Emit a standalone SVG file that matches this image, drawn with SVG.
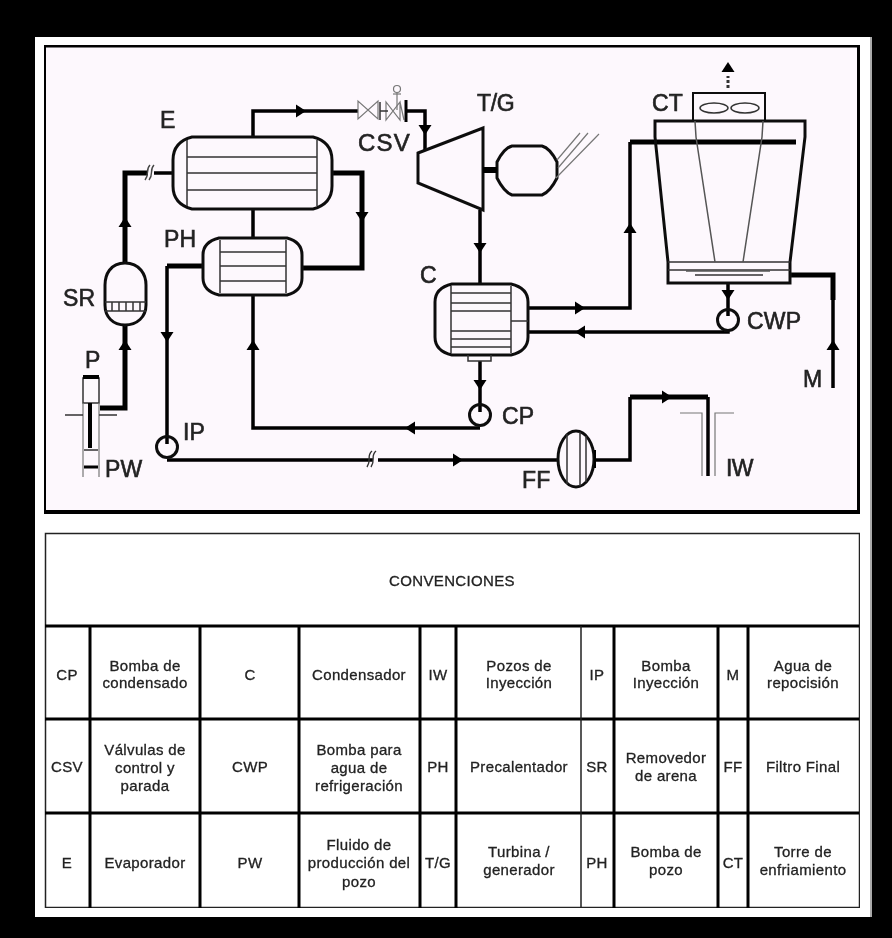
<svg xmlns="http://www.w3.org/2000/svg" xmlns:xlink="http://www.w3.org/1999/xlink" width="892" height="938" viewBox="0 0 892 938">
<defs>
<style>
.l{font-family:"Liberation Sans",Arial,sans-serif;font-size:23px;fill:#222;stroke:#222;stroke-width:.6;letter-spacing:.2px}
.t{font-family:"Liberation Sans",Arial,sans-serif;font-size:15px;fill:#222;stroke:#222;stroke-width:.3;letter-spacing:.35px;text-anchor:middle}
.o{fill:none;stroke:#111;stroke-width:3}
.n{fill:none;stroke:#333;stroke-width:1.5}
.g{fill:none;stroke:#777;stroke-width:1.2}
.p{fill:none;stroke:#000;stroke-width:3.5}
.pp{fill:none;stroke:#000;stroke-width:5}
.ah{fill:#000}
</style>
<polygon id="ah" class="ah" points="-5,-6.5 5,0 -5,6.5"/>
<filter id="soft" x="0" y="0" width="100%" height="100%"><feGaussianBlur stdDeviation="0.55"/></filter>
</defs>
<rect width="892" height="938" fill="#000"/>
<rect x="35" y="37" width="836" height="880" fill="#fff"/>
<rect x="870" y="37" width="2" height="880" fill="#aaa"/>
<g filter="url(#soft)">
<rect id="frame" x="44" y="45.500" width="815" height="466.500" fill="#fdf8fd" stroke="#000" stroke-width="4"/>
<g id="connectors">
<path class="p" d="M253 137V111H358"/>
<path class="p" d="M407 111H425V150"/>
<path class="p" d="M480 210V284"/>
<path class="p" d="M253 209V238"/>
<path class="pp" d="M332 173H362V268H302"/>
<path class="pp" d="M203 266H167"/>
<path class="p" d="M167 266V444"/>
<path class="p" d="M480 361V412"/>
<path class="p" d="M480 428H253V295"/>
<path class="pp" d="M125 263V173H148"/>
<path class="p" d="M154 173H173"/>
<path class="pp" d="M125 325V408H100"/>
<path class="p" d="M167 460H373"/>
<path class="p" d="M378 460H558"/>
<path class="p" d="M594 460H630V397"/>
<path class="pp" d="M630 397H708"/>
<path class="p" d="M708 397V476"/>
<path class="p" d="M528 308H630V142"/>
<path class="pp" d="M630 142H796"/>
<path class="p" d="M528 332H728V330"/>
<path class="p" d="M728 283V316"/>
<path class="pp" d="M790 275H833V300"/>
<path class="p" d="M833 300V388"/>
<path d="M728 88V76" fill="none" stroke="#333" stroke-width="3" stroke-dasharray="3 2"/>
<path d="M149 180C154 174 149 170 154 165M145 180C150 174 145 170 150 165" fill="none" stroke="#444" stroke-width="1.4"/>
<path d="M371 467C376 460 370 456 376 451M367 467C372 460 366 456 372 451" fill="none" stroke="#333" stroke-width="1.4"/>
<use xlink:href="#ah" transform="translate(301 111)"/>
<use xlink:href="#ah" transform="translate(425 130) rotate(90)"/>
<use xlink:href="#ah" transform="translate(480 248) rotate(90)"/>
<use xlink:href="#ah" transform="translate(362 217) rotate(90)"/>
<use xlink:href="#ah" transform="translate(167 337) rotate(90)"/>
<use xlink:href="#ah" transform="translate(125 222) rotate(-90)"/>
<use xlink:href="#ah" transform="translate(125 345) rotate(-90)"/>
<use xlink:href="#ah" transform="translate(253 345) rotate(-90)"/>
<use xlink:href="#ah" transform="translate(480 385) rotate(90)"/>
<use xlink:href="#ah" transform="translate(410 428) rotate(180)"/>
<use xlink:href="#ah" transform="translate(458 460)"/>
<use xlink:href="#ah" transform="translate(667 397)"/>
<use xlink:href="#ah" transform="translate(580 308)"/>
<use xlink:href="#ah" transform="translate(580 332) rotate(180)"/>
<use xlink:href="#ah" transform="translate(630 228) rotate(-90)"/>
<use xlink:href="#ah" transform="translate(728 295) rotate(90)"/>
<use xlink:href="#ah" transform="translate(833 345) rotate(-90)"/>
<use xlink:href="#ah" transform="translate(728 67) rotate(-90)"/>
</g>
<g id="evaporator">
<path class="o" d="M192 137H313Q332 142 332 160V186Q332 204 313 209H192Q173 204 173 186V160Q173 142 192 137Z"/>
<path class="n" d="M187 140V206M317 140V206M187 157H317M187 173H317M187 190H317"/>
<text class="l" x="160" y="128">E</text>
</g>
<g id="preheater">
<path class="o" d="M219 238H287Q302 242 302 255V278Q302 291 287 295H219Q203 291 203 278V255Q203 242 219 238Z"/>
<path class="n" d="M220 240V293M286 240V293M220 252H286M220 266H286M220 281H286"/>
<text class="l" x="164" y="247">PH</text>
</g>
<g id="csv">
<path class="g" d="M358 101V119L378 101V119ZM386 102V120L400 102V120ZM400 102L404 120"/>
<path class="n" d="M380 102V120M380 111H388"/>
<path d="M406 100V122" stroke="#000" stroke-width="3" fill="none"/>
<path class="g" d="M397 110V93"/>
<circle cx="397" cy="89" r="3.500" fill="none" stroke="#777" stroke-width="1.200"/>
<path class="g" d="M393 94H401"/>
<text class="l" x="358" y="151" style="letter-spacing:1.2px;font-size:24px">CSV</text>
</g>
<g id="turbine">
<path class="o" d="M418 153L483 128V210L418 183Z"/>
<text class="l" x="477" y="111" style="letter-spacing:-.3px">T/G</text>
</g>
<g id="generator">
<path class="o" d="M512 146H542Q550 148 557 162V178Q550 192 542 195H512Q504 192 497 178V162Q504 148 512 146Z"/>
<path d="M483 170H497" stroke="#000" stroke-width="6" fill="none"/>
<path class="g" d="M557 160L580 133M558 168L588 133M556 178L599 134"/>
</g>
<g id="condenser">
<path class="o" d="M452 284H511Q528 288 528 302V337Q528 351 511 355H452Q435 351 435 337V302Q435 288 452 284Z"/>
<path class="n" d="M451 286V353M511 286V353M451 293H511M451 303H511M451 311H511M451 331H511M451 339H511M451 347H511M511 321H528"/>
<path class="n" d="M468 355V361H491V355"/>
<text class="l" x="420" y="283">C</text>
</g>
<g id="cp">
<circle class="o" cx="480" cy="415" r="10.500"/>
<text class="l" x="502" y="424">CP</text>
</g>
<g id="ip">
<circle class="o" cx="167" cy="447" r="10.500"/>
<text class="l" x="183" y="440">IP</text>
</g>
<g id="cwp">
<circle class="o" cx="728" cy="320" r="10.500"/>
<text class="l" x="747" y="329">CWP</text>
</g>
<g id="tower">
<rect class="o" x="693" y="93" width="72" height="28" style="stroke-width:2"/>
<ellipse class="n" cx="714" cy="108" rx="14" ry="5"/>
<ellipse class="n" cx="745" cy="108" rx="14" ry="5"/>
<path class="o" d="M655 137V121H805V137L790 262V283H668V262Z"/>
<path class="n" d="M668 262H790M668 270H790"/>
<path class="g" d="M695 121L696 137L715 262M763 121L762 137L743 262M686 271H770" style="stroke:#555;stroke-width:1.500"/>
<path d="M695 275H763" stroke="#333" stroke-width="1.500"/>
<text class="l" x="652" y="111">CT</text>
</g>
<g id="sr">
<path class="o" d="M125 263C140 263 146 275 146 285V305C146 317 137 325 125 325C113 325 105 317 105 305V285C105 275 110 263 125 263Z"/>
<path class="n" d="M105 302H146M105 311H146M112 302V311M119 302V311M126 302V311M133 302V311M140 302V311"/>
<text class="l" x="63" y="306">SR</text>
</g>
<g id="pw">
<rect x="83" y="378" width="16" height="25" class="n"/>
<path d="M83 377H99" stroke="#000" stroke-width="4"/>
<path d="M90 403V448" stroke="#000" stroke-width="4"/>
<path class="g" d="M83 403V477M99 403V477"/>
<path class="n" d="M84 450H98M65 415H83M99 415H117"/>
<path d="M84 467H98" stroke="#000" stroke-width="3"/>
<text class="l" x="85" y="368">P</text>
<text class="l" x="105" y="477">PW</text>
</g>
<g id="ff">
<ellipse class="o" cx="576" cy="459" rx="18" ry="28"/>
<path class="n" d="M567 434V484M580 432V486M586 436V482"/>
<path d="M595 450V468" stroke="#000" stroke-width="2"/>
<text class="l" x="522" y="488">FF</text>
</g>
<g id="iw">
<path class="g" d="M680 413H702V476M734 413H715V476"/>
<text class="l" x="726" y="476" style="letter-spacing:-.6px">IW</text>
</g>
<text class="l" x="803" y="387">M</text>
<g id="legend">
<rect x="45.500" y="533.500" width="814" height="374" fill="#fff" stroke="#222" stroke-width="1.500"/>
<path d="M45 626H859M45 719H859M45 813H859M90 626V908M200 626V908M299 626V908M420 626V908M456 626V908M614 626V908M718 626V908M748 626V908" stroke="#000" stroke-width="3" fill="none"/>
<path d="M581 626V908" stroke="#222" stroke-width="1.500"/>
<text class="t" x="452" y="586">CONVENCIONES</text>
<text class="t" x="67" y="680">CP</text>
<text class="t" x="145" y="671">Bomba de</text><text class="t" x="145" y="688">condensado</text>
<text class="t" x="250" y="680">C</text>
<text class="t" x="359" y="680">Condensador</text>
<text class="t" x="438" y="680">IW</text>
<text class="t" x="519" y="671">Pozos de</text><text class="t" x="519" y="688">Inyección</text>
<text class="t" x="597" y="680">IP</text>
<text class="t" x="666" y="671">Bomba</text><text class="t" x="666" y="688">Inyección</text>
<text class="t" x="733" y="680">M</text>
<text class="t" x="803" y="671">Agua de</text><text class="t" x="803" y="688">repocisión</text>
<text class="t" x="67" y="772">CSV</text>
<text class="t" x="145" y="755">Válvulas  de</text><text class="t" x="145" y="773">control y</text><text class="t" x="145" y="791">parada</text>
<text class="t" x="250" y="772">CWP</text>
<text class="t" x="359" y="755">Bomba para</text><text class="t" x="359" y="773">agua de</text><text class="t" x="359" y="791">refrigeración</text>
<text class="t" x="438" y="772">PH</text>
<text class="t" x="519" y="772">Precalentador</text>
<text class="t" x="597" y="772">SR</text>
<text class="t" x="666" y="763">Removedor</text><text class="t" x="666" y="781">de arena</text>
<text class="t" x="733" y="772">FF</text>
<text class="t" x="803" y="772">Filtro Final</text>
<text class="t" x="67" y="868">E</text>
<text class="t" x="145" y="868">Evaporador</text>
<text class="t" x="250" y="868">PW</text>
<text class="t" x="359" y="850">Fluido de</text><text class="t" x="359" y="868">producción del</text><text class="t" x="359" y="887">pozo</text>
<text class="t" x="438" y="868">T/G</text>
<text class="t" x="519" y="857">Turbina /</text><text class="t" x="519" y="875">generador</text>
<text class="t" x="597" y="868">PH</text>
<text class="t" x="666" y="857">Bomba de</text><text class="t" x="666" y="875">pozo</text>
<text class="t" x="733" y="868">CT</text>
<text class="t" x="803" y="857">Torre de</text><text class="t" x="803" y="875">enfriamiento</text>
</g>
</g>
</svg>
